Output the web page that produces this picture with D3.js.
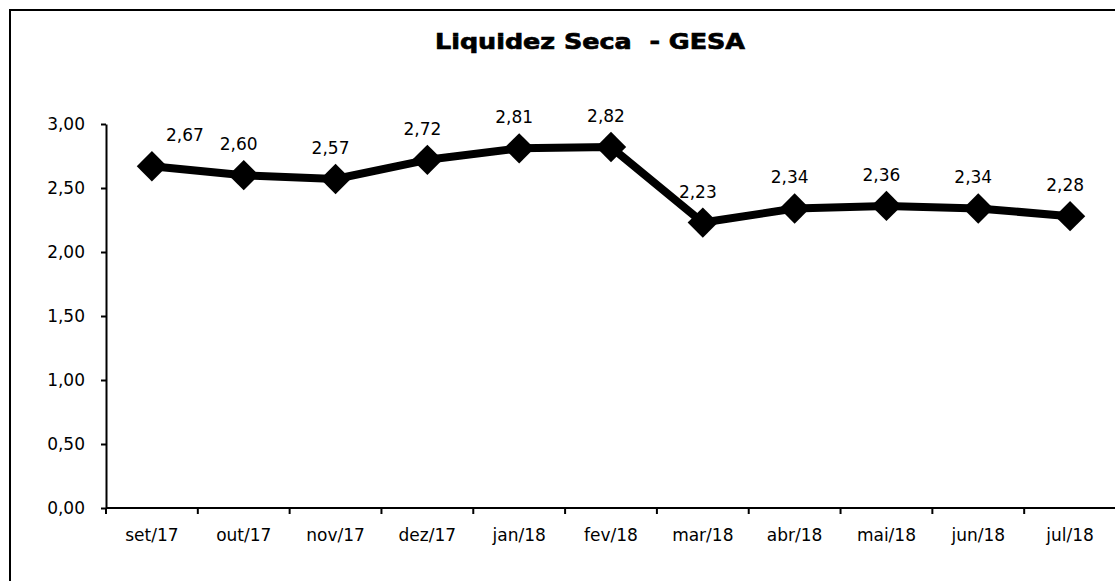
<!DOCTYPE html>
<html>
<head>
<meta charset="utf-8">
<script src="https://cdn.jsdelivr.net/npm/d3@7"></script>
<style>
    body { margin: 0; background: #fff; }
    svg { display: block; }
    text { font-family: "DejaVu Sans", "Liberation Sans", Arial, sans-serif; fill: #000; }
    .eg-axis text { font-size: 17px; }
    .eg-axis path, .eg-axis line { stroke: #000; stroke-width: 2; }
    .eg-title { font-size: 22px; font-weight: bold; white-space: pre; stroke: #000; stroke-width: 0.7; }
    .eg-value { font-size: 17px; }
</style>
</head>
<body>
<svg id="eg-svg"></svg>
<script>
var width = 1115;
var height = 581;
var margin = {
    top: 124,
    right: -1,
    bottom: 73,
    left: 106
};

var months = ["set/17", "out/17", "nov/17", "dez/17", "jan/18", "fev/18",
    "mar/18", "abr/18", "mai/18", "jun/18", "jul/18"];
var liquidez = [2.67, 2.60, 2.57, 2.72, 2.81, 2.82, 2.23, 2.34, 2.36, 2.34, 2.28];
var yTicks = [0, 0.5, 1, 1.5, 2, 2.5, 3];
var title = "Liquidez Seca  - GESA";

var innerWidth = width - margin.left - margin.right;
var innerHeight = height - margin.top - margin.bottom;

var root = d3.select("#eg-svg")
    .attr("width", width)
    .attr("height", height);

// outer frame (only left and top edges are visible in the scan)
root.append("path")
    .attr("d", "M10," + height + "V10H" + width)
    .attr("fill", "none")
    .attr("stroke", "#000")
    .attr("stroke-width", 2);

root.append("text")
    .attr("class", "eg-title")
    .attr("x", 590)
    .attr("y", 49)
    .attr("text-anchor", "middle")
    .attr("textLength", 310)
    .attr("lengthAdjust", "spacingAndGlyphs")
    .text(title);

var svg = root.append("g")
    .attr("transform", "translate(" + margin.left + "," + margin.top + ")");

var xScale = d3.scaleBand()
    .domain(months)
    .range([0, innerWidth]);
var yScale = d3.scaleLinear()
    .domain([0, 3])
    .range([innerHeight, 0]);

var fmt = function(v) {
    return d3.format(".2f")(v).replace(".", ",");
};

// y axis
var yAxis = d3.axisLeft(yScale)
    .tickValues(yTicks)
    .tickSize(5)
    .tickSizeOuter(0)
    .tickPadding(16)
    .tickFormat(fmt);
svg.append("g")
    .attr("class", "eg-axis")
    .call(yAxis)
    .call(g => g.selectAll("text").attr("dy", "0.33em"));

// x axis: ticks on band boundaries
var xAxisG = svg.append("g")
    .attr("class", "eg-axis")
    .attr("transform", "translate(0," + innerHeight + ")");
xAxisG.append("line")
    .attr("x1", 0)
    .attr("x2", innerWidth);
xAxisG.selectAll(".eg-xtick")
    .data(months)
    .enter()
    .append("line")
    .attr("class", "eg-xtick")
    .attr("x1", d => xScale(d))
    .attr("x2", d => xScale(d))
    .attr("y1", 0)
    .attr("y2", 6);
xAxisG.selectAll(".eg-xlabel")
    .data(months)
    .enter()
    .append("text")
    .attr("class", "eg-xlabel")
    .attr("x", d => xScale(d) + xScale.bandwidth() / 2)
    .attr("y", 33)
    .attr("text-anchor", "middle")
    .text(d => d);

var points = months.map(function(m, i) {
    return { month: m, value: liquidez[i] };
});

var line = d3.line()
    .x(d => xScale(d.month) + xScale.bandwidth() / 2)
    .y(d => yScale(d.value));

svg.append("path")
    .datum(points)
    .attr("d", line)
    .attr("fill", "none")
    .attr("stroke", "#000")
    .attr("stroke-width", 8)
    .attr("stroke-linejoin", "round");

var diamond = d3.symbol().type(d3.symbolSquare).size(460);
svg.selectAll(".eg-marker")
    .data(points)
    .enter()
    .append("path")
    .attr("class", "eg-marker")
    .attr("d", diamond)
    .attr("fill", "#000")
    .attr("transform", d => "translate(" + (xScale(d.month) + xScale.bandwidth() / 2) +
        "," + yScale(d.value) + ") rotate(45)");

svg.selectAll(".eg-value")
    .data(points)
    .enter()
    .append("text")
    .attr("class", "eg-value")
    .attr("x", (d, i) => xScale(d.month) + xScale.bandwidth() / 2 + (i === 0 ? 33 : -5))
    .attr("y", d => yScale(d.value) - 25)
    .attr("text-anchor", "middle")
    .text(d => fmt(d.value));
</script>
</body>
</html>
